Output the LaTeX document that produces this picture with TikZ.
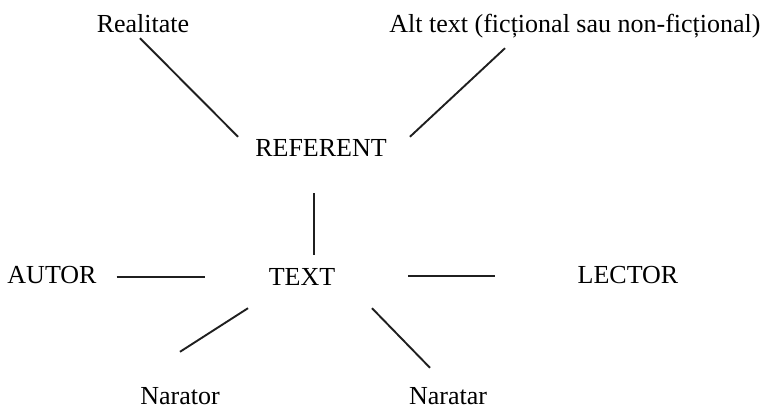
\documentclass[tikz,border=0pt]{standalone}
\usepackage{fontspec}
\setmainfont{Liberation Serif}
\usetikzlibrary{positioning}

\begin{document}
\begin{tikzpicture}[x=1pt,y=-1pt,
    lbl/.style={inner sep=0pt,anchor=base,text height=18pt,text depth=0pt,
                font=\fontsize{26}{30}\selectfont,text=black},
    link/.style={line width=1.9pt,draw=black!88}]
    \useasboundingbox (0,0) rectangle (766,411);

    % 文字
    \node[lbl] (real)    at (143,33)  {Realitate};
    \node[lbl] (alt)     at (575,33)  {Alt text (ficțional sau non-ficțional)};
    \node[lbl] (refer)   at (321,157) {REFERENT};
    \node[lbl] (text)    at (302,286) {TEXT};
    \node[lbl] (autor)   at (52,284)  {AUTOR};
    \node[lbl] (lector)  at (628,284) {LECTOR};
    \node[lbl] (narator) at (180,405) {Narator};
    \node[lbl] (naratar) at (448,405) {Naratar};

    % 连线
    \draw[link] ([shift={(-3,5)}]real.south) -- ([shift={(-17,-2)}]refer.north west);
    \draw[link] ([shift={(-70,15)}]alt.south) -- ([shift={(23,-2)}]refer.north east);
    \draw[link] ([shift={(-7,36)}]refer.south) -- ([shift={(12,-13)}]text.north);
    \draw[link] ([shift={(20,2)}]autor.east) -- ([shift={(-64,0)}]text.west);
    \draw[link] ([shift={(73,-1)}]text.east) -- ([shift={(-82,1)}]lector.west);
    \draw[link] ([shift={(-54,22)}]text.south) -- ([shift={(0,-35)}]narator.north);
    \draw[link] ([shift={(70,22)}]text.south) -- ([shift={(-18,-19)}]naratar.north);
\end{tikzpicture}
\end{document}
